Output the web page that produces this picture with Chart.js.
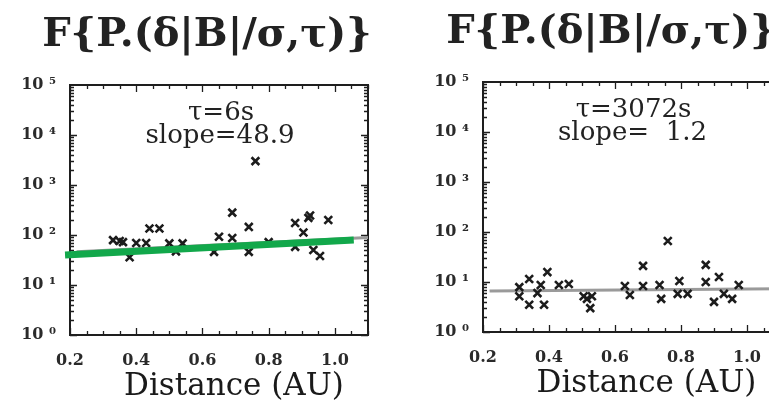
<!DOCTYPE html>
<html>
<head>
<meta charset="utf-8">
<script src="https://cdn.jsdelivr.net/npm/chart.js@4/dist/chart.umd.min.js"></script>
<style>
  html, body { margin: 0; padding: 0; width: 769px; height: 416px; overflow: hidden; background: #fff; }
  .panel { position: absolute; width: 414px; height: 416px; }
  #panelShort { left: 0; top: 0; }
  #panelLong { left: 404px; top: -3px; }
</style>
</head>
<body>
<div class="panel" id="panelShort"><canvas id="shortChart" width="414" height="416"></canvas></div>
<div class="panel" id="panelLong"><canvas id="longChart" width="414" height="416"></canvas></div>
<script>
// Axis ticks and labels
const xTicks = [0.2, 0.4, 0.6, 0.8, 1.0];
const yTicks = [1, 10, 100, 1000, 10000, 100000];
const panelTitle = 'F{P.(δ|B|/σ,τ)}';
const xTitle = 'Distance (AU)';

// tau = 6 s: heliocentric distance (AU) and F value per event
const shortDist = [0.33, 0.35, 0.36, 0.38, 0.40, 0.43, 0.44, 0.47, 0.50, 0.52, 0.54,
                   0.635, 0.65, 0.69, 0.69, 0.74, 0.74, 0.76, 0.80, 0.88, 0.88,
                   0.905, 0.92, 0.925, 0.935, 0.955, 0.98];
const shortVal  = [79, 76, 72, 36, 69, 69, 135, 135, 68, 47, 68,
                   46, 92, 280, 87, 145, 46, 3000, 72, 174, 58,
                   112, 220, 245, 50, 38, 200];
const shortFitDist = [0.22, 1.1];
const shortFitVal  = [46, 89];
const shortTrendDist = [0.185, 1.057];
const shortTrendVal  = [40, 79];
const shortLabel = ['τ=6s', 'slope=48.9'];

// tau = 3072 s
const longDist = [0.31, 0.31, 0.34, 0.34, 0.365, 0.375, 0.385, 0.395, 0.43, 0.46,
                  0.505, 0.515, 0.53, 0.525, 0.63, 0.645, 0.685, 0.685, 0.735, 0.74,
                  0.76, 0.795, 0.79, 0.82, 0.875, 0.875, 0.90, 0.915, 0.93, 0.955, 0.975];
const longVal  = [7.9, 5.2, 11.5, 3.5, 6.0, 8.7, 3.5, 15.8, 8.7, 9.1,
                  5.2, 4.6, 5.2, 3.0, 8.3, 5.5, 21, 8.3, 8.7, 4.6,
                  66, 10.5, 5.8, 5.8, 22, 10, 4.0, 12.6, 5.8, 4.6, 8.7];
const longFitDist = [0.22, 1.1];
const longFitVal  = [6.6, 7.3];
const longLabel = ['τ=3072s', 'slope=  1.2'];

const SERIF = "'DejaVu Serif', 'Liberation Serif', serif";
const SUP = ['⁰', '¹', '²', '³', '⁴', '⁵', '⁶'];
const pts = (xs, ys) => xs.map((x, i) => ({ x, y: ys[i] }));

// Box frame with inward major/minor tick marks on all four sides
const framePlugin = {
  id: 'frame',
  beforeDatasetsDraw(chart) {
    const { ctx, chartArea: a, scales: { x, y } } = chart;
    ctx.save();
    ctx.strokeStyle = '#1e1e1e';
    ctx.lineWidth = 1.3;
    ctx.beginPath();
    for (let k = 0; k <= 18; k++) {
      const v = 0.2 + k * 0.05;
      const px = Math.round(x.getPixelForValue(v)) + 0.5;
      const len = (k % 4 === 0) ? 7 : 4;
      ctx.moveTo(px, a.bottom); ctx.lineTo(px, a.bottom - len);
      ctx.moveTo(px, a.top); ctx.lineTo(px, a.top + len);
    }
    for (let e = 0; e < 5; e++) {
      for (let m = 1; m <= 9; m++) {
        const py = Math.round(y.getPixelForValue(m * Math.pow(10, e))) + 0.5;
        const len = m === 1 ? 7 : 4;
        ctx.moveTo(a.left, py); ctx.lineTo(a.left + len, py);
        ctx.moveTo(a.right, py); ctx.lineTo(a.right - len, py);
      }
    }
    ctx.stroke();
    ctx.lineWidth = 2;
    ctx.strokeRect(a.left, a.top, a.right - a.left, a.bottom - a.top);
    ctx.restore();
  }
};

// In-panel annotation and the distance axis label
const textPlugin = {
  id: 'panelText',
  afterDraw(chart) {
    const { ctx, chartArea: a } = chart;
    const lines = chart.options.plugins.panelText.lines;
    const cx = (a.left + a.right) / 2;
    ctx.save();
    ctx.fillStyle = '#222';
    ctx.textAlign = 'center';
    ctx.textBaseline = 'alphabetic';
    ctx.font = '26px ' + SERIF;
    ctx.fillText(lines[0], cx + 2, a.top + 35);
    ctx.fillText(lines[1], cx + 1, a.top + 58);
    ctx.fillStyle = '#1a1a1a';
    ctx.font = '31px ' + SERIF;
    ctx.fillText(xTitle, cx + 15, 395);
    ctx.restore();
  }
};

function makePanel(id, opts) {
  const datasets = [];
  if (opts.trend) {
    datasets.push({
      type: 'line', data: opts.trend, borderColor: '#12a84b', borderWidth: 7,
      pointRadius: 0, showLine: true, clip: false, borderCapStyle: 'butt'
    });
  }
  datasets.push({
    type: 'scatter', data: opts.points, pointStyle: 'crossRot', pointRadius: 5.5,
    borderColor: '#1c1c1c', backgroundColor: '#1c1c1c', pointBorderWidth: 2.6, borderWidth: 2.6
  });
  datasets.push({
    type: 'line', data: opts.fit, borderColor: '#9a9a9a', borderWidth: 3,
    pointRadius: 0, showLine: true
  });

  return new Chart(document.getElementById(id), {
    type: 'scatter',
    data: { datasets },
    options: {
      responsive: false,
      animation: false,
      layout: { padding: 0 },
      plugins: {
        legend: { display: false },
        tooltip: { enabled: false },
        title: {
          display: true, text: panelTitle, color: '#222',
          font: { family: SERIF, size: 40, weight: 'bold' },
          padding: { top: 12, bottom: 25 }
        },
        panelText: { lines: opts.labels }
      },
      scales: {
        x: {
          type: 'linear', min: 0.2, max: 1.1,
          afterBuildTicks: s => { s.ticks = xTicks.map(v => ({ value: v })); },
          afterFit: s => { s.height = 81; },
          grid: { display: false, drawTicks: false },
          border: { display: false },
          ticks: {
            padding: 16, color: '#2a2a2a', font: { family: SERIF, size: 16, weight: 'bold' },
            callback: v => Number(v).toFixed(1)
          }
        },
        y: {
          type: 'logarithmic', min: 1, max: 100000,
          afterBuildTicks: s => { s.ticks = yTicks.map(v => ({ value: v })); },
          afterFit: s => { s.width = opts.axisWidth; },
          grid: { display: false, drawTicks: false },
          border: { display: false },
          ticks: {
            padding: 14, color: '#2a2a2a', font: { family: SERIF, size: 16, weight: 'bold' },
            callback: v => '10 ' + SUP[Math.round(Math.log10(v))]
          }
        },
        // empty right-hand gutter so the frame stops short of the canvas edge
        gutter: {
          type: 'linear', position: 'right', display: true,
          afterFit: s => { s.width = opts.rightGap; },
          grid: { display: false, drawTicks: false },
          border: { display: false },
          ticks: { display: false }
        }
      }
    },
    plugins: [framePlugin, textPlugin]
  });
}

makePanel('shortChart', {
  points: pts(shortDist, shortVal),
  fit: pts(shortFitDist, shortFitVal),
  trend: pts(shortTrendDist, shortTrendVal),
  labels: shortLabel, axisWidth: 70, rightGap: 46
});
makePanel('longChart', {
  points: pts(longDist, longVal),
  fit: pts(longFitDist, longFitVal),
  labels: longLabel, axisWidth: 79, rightGap: 38
});
</script>
</body>
</html>
